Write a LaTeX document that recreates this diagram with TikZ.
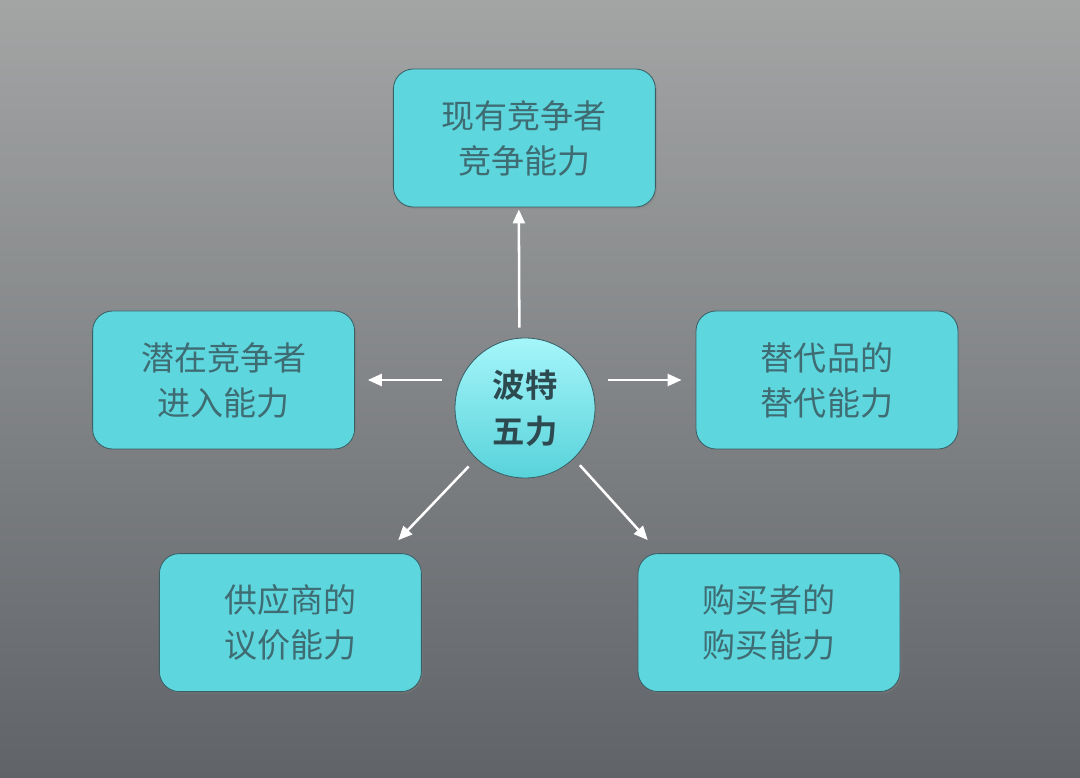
\documentclass[tikz,border=0pt]{standalone}
\usepackage{fontspec}
\newfontfamily\cjk[BoldFont={Noto Sans CJK SC Bold}]{Noto Sans CJK SC}
\usepackage{tikz}
\usetikzlibrary{shapes,arrows.meta,positioning,calc,shadows}
\usepackage{xcolor}
\definecolor{boxcyan}{RGB}{94,214,222}
\definecolor{hubtop}{RGB}{165,246,250}
\definecolor{hubbottom}{RGB}{88,210,218}
\definecolor{edgeteal}{RGB}{58,96,102}
\definecolor{labelteal}{RGB}{62,108,114}
\definecolor{hubtext}{RGB}{44,74,80}
\definecolor{bgtop}{RGB}{163,165,165}
\definecolor{bgbottom}{RGB}{96,99,104}
\tikzset{
    forcebox/.style={
        rectangle,
        rounded corners=0.5cm,
        draw=edgeteal,
        line width=0.6pt,
        fill=boxcyan,
        minimum width=6.55cm,
        minimum height=3.45cm,
        align=center,
        text=labelteal,
        font=\cjk\fontsize{23.5}{32}\selectfont,
        drop shadow={opacity=0.35,shadow xshift=0.04cm,shadow yshift=-0.05cm}
    },
    hubnode/.style={
        circle,
        draw=edgeteal,
        line width=0.6pt,
        top color=hubtop,
        bottom color=hubbottom,
        minimum size=3.5cm,
        inner sep=0pt,
        align=center,
        text=hubtext,
        font=\cjk\bfseries\fontsize{23}{33}\selectfont,
        drop shadow={opacity=0.35,shadow xshift=0.03cm,shadow yshift=-0.04cm}
    },
    force/.style={
        -{Triangle[length=0.35cm,width=0.3cm]},
        white,
        line width=1.8pt
    }
}
\begin{document}
\begin{tikzpicture}
    % background
    \shade[top color=bgtop,bottom color=bgbottom] (0,0) rectangle (27,19.425);
    \useasboundingbox (0,0) rectangle (27,19.425);

    % centre
    \node[hubnode] (hub) at (13.125,9.225) {波特\\五力};

    % five forces
    \node[forcebox] (rivals) at (13.11,15.975) {现有竞争者\\竞争能力};
    \node[forcebox] (entrants) at (5.59,9.925) {潜在竞争者\\进入能力};
    \node[forcebox] (substitutes) at (20.675,9.925) {替代品的\\替代能力};
    \node[forcebox] (suppliers) at (7.26,3.86) {供应商的\\议价能力};
    \node[forcebox] (buyers) at (19.225,3.86) {购买者的\\购买能力};

    % arrows
    \draw[force,shorten <=0.25cm,shorten >=0.05cm] ([xshift=-0.14cm]hub.north) -- ([xshift=-0.14cm]rivals.south);
    \draw[force,shorten <=0.32cm,shorten >=0.32cm] (hub.west |- entrants.east) -- (entrants.east);
    \draw[force,shorten <=0.32cm,shorten >=0.35cm] (hub.east |- substitutes.west) -- (substitutes.west);
    \draw[force,shorten <=0.27cm,shorten >=0.45cm] (hub.-134) -- ([xshift=-0.9cm]suppliers.north east);
    \draw[force,shorten <=0.22cm,shorten >=0.44cm] (hub.-46) -- ([xshift=0.55cm]buyers.north west);
\end{tikzpicture}
\end{document}
